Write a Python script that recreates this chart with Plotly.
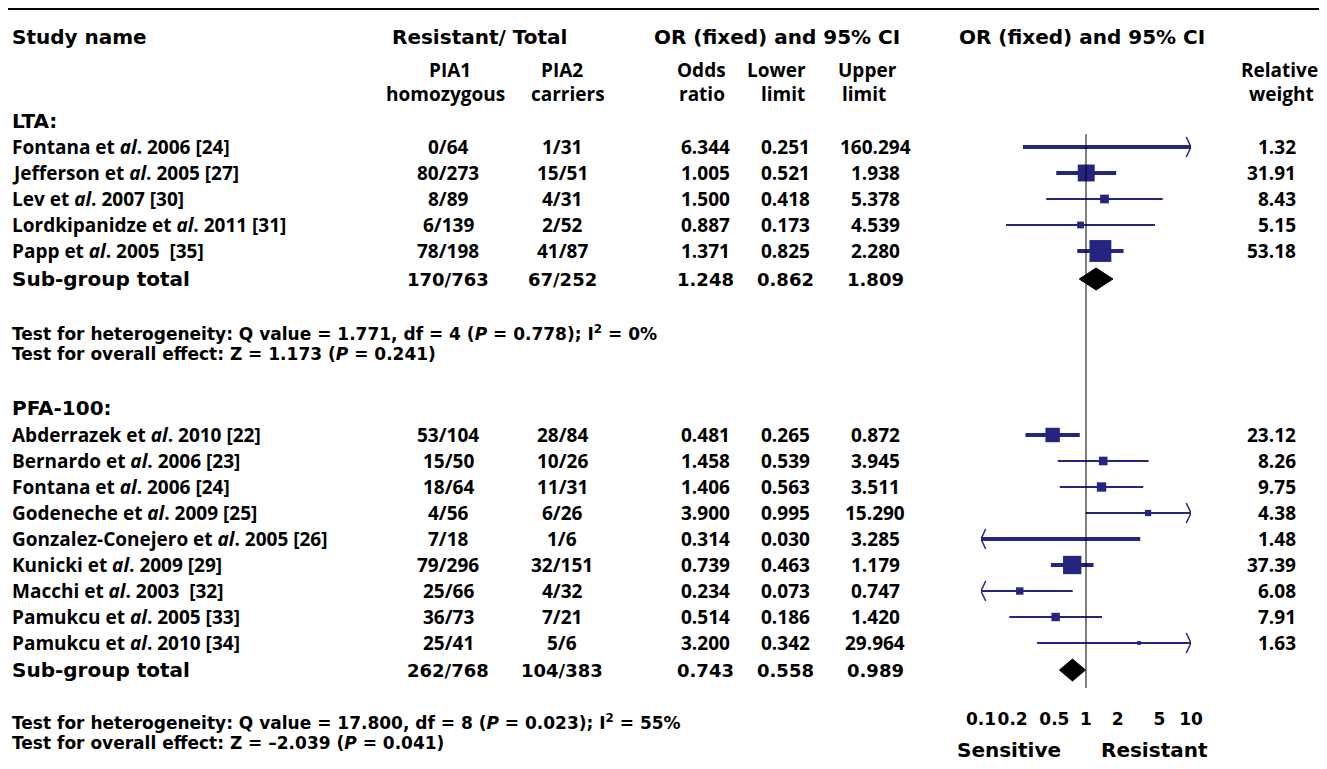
import math
import plotly.graph_objects as go

# ---------------- data ----------------
lta_names = ["Fontana et <i>al</i>. 2006 [24]", "Jefferson et <i>al</i>. 2005 [27]",
             "Lev et <i>al</i>. 2007 [30]", "Lordkipanidze et <i>al</i>. 2011 [31]",
             "Papp et <i>al</i>. 2005  [35]"]
lta_pia1 = ["0/64", "80/273", "8/89", "6/139", "78/198"]
lta_pia2 = ["1/31", "15/51", "4/31", "2/52", "41/87"]
lta_or = [6.344, 1.005, 1.500, 0.887, 1.371]
lta_lo = [0.251, 0.521, 0.418, 0.173, 0.825]
lta_hi = [160.294, 1.938, 5.378, 4.539, 2.280]
lta_w = [1.32, 31.91, 8.43, 5.15, 53.18]
lta_total = {"pia1": "170/763", "pia2": "67/252", "or": 1.248, "lo": 0.862, "hi": 1.809}
lta_het = "Test for heterogeneity: Q value = 1.771, df = 4 (<i>P</i> = 0.778); I<sup>2</sup> = 0%"
lta_eff = "Test for overall effect: Z = 1.173 (<i>P</i> = 0.241)"

pfa_names = ["Abderrazek et <i>al</i>. 2010 [22]", "Bernardo et <i>al</i>. 2006 [23]",
             "Fontana et <i>al</i>. 2006 [24]", "Godeneche et <i>al</i>. 2009 [25]",
             "Gonzalez-Conejero et <i>al</i>. 2005 [26]", "Kunicki et <i>al</i>. 2009 [29]",
             "Macchi et <i>al</i>. 2003  [32]", "Pamukcu et <i>al</i>. 2005 [33]",
             "Pamukcu et <i>al</i>. 2010 [34]"]
pfa_pia1 = ["53/104", "15/50", "18/64", "4/56", "7/18", "79/296", "25/66", "36/73", "25/41"]
pfa_pia2 = ["28/84", "10/26", "11/31", "6/26", "1/6", "32/151", "4/32", "7/21", "5/6"]
pfa_or = [0.481, 1.458, 1.406, 3.900, 0.314, 0.739, 0.234, 0.514, 3.200]
pfa_lo = [0.265, 0.539, 0.563, 0.995, 0.030, 0.463, 0.073, 0.186, 0.342]
pfa_hi = [0.872, 3.945, 3.511, 15.290, 3.285, 1.179, 0.747, 1.420, 29.964]
pfa_w = [23.12, 8.26, 9.75, 4.38, 1.48, 37.39, 6.08, 7.91, 1.63]
pfa_total = {"pia1": "262/768", "pia2": "104/383", "or": 0.743, "lo": 0.558, "hi": 0.989}
pfa_het = "Test for heterogeneity: Q value = 17.800, df = 8 (<i>P</i> = 0.023); I<sup>2</sup> = 55%"
pfa_eff = "Test for overall effect: Z = \u20132.039 (<i>P</i> = 0.041)"

tick_vals = [0.1, 0.2, 0.5, 1, 2, 5, 10]
tick_text = ["0.1", "0.2", "0.5", "1", "2", "5", "10"]
axis_min, axis_max = 0.1, 10

# ---------------- layout / style ----------------
PAGE_W, PAGE_H = 1327, 769
OFF = 8                      # default page body margin
W, H = PAGE_W - OFF, PAGE_H - OFF
NAVY = "#25257f"
FONT = "Open Sans"
HFONT = "DejaVu Sans"
REG = 19
HEAVY = 20
HEAVY_NUM = 18
TEST = 17
lta_rows = [147, 173, 199, 225, 251]
lta_total_row = 279
pfa_rows = [435, 461, 487, 513, 539, 565, 591, 617, 643]
pfa_total_row = 670
lta_thick = [True, True, False, False, True]
pfa_thick = [True, False, False, False, True, True, False, False, False]

col_pia1, col_pia2 = 448, 562
col_or, col_lo, col_hi = 705, 785, 875
col_w = 1298
x_name = 10


def px(x):
    return (x - OFF) / W


fig = go.Figure()
ann = []


def text(x, y, s, size=REG, heavy=False, anchor="center"):
    fam = HFONT if heavy else FONT
    ann.append(dict(x=px(x), y=y, xref="paper", yref="y", text="<b>" + s + "</b>",
                    showarrow=False, xanchor=anchor, yanchor="middle",
                    font=dict(family=fam, size=size, color="black")))


def fmt(v):
    return f"{v:.3f}"


def draw_group(names, p1, p2, ors, los, his, ws, rows, thick, total, total_row):
    for i in range(len(names)):
        y = rows[i]
        text(x_name, y, names[i], anchor="left")
        text(col_pia1, y, p1[i])
        text(col_pia2, y, p2[i])
        text(col_or, y, fmt(ors[i]))
        text(col_lo, y, fmt(los[i]))
        text(col_hi, y, fmt(his[i]))
        text(col_w, y, f"{ws[i]:.2f}", anchor="right")
        lo_c = max(los[i], axis_min)
        hi_c = min(his[i], axis_max)
        lw = 4 if thick[i] else 2
        fig.add_trace(go.Scatter(x=[lo_c, hi_c], y=[y, y], mode="lines",
                                 line=dict(color=NAVY, width=lw), hoverinfo="skip",
                                 showlegend=False))
        head = 10 ** 0.045
        if his[i] > axis_max:
            fig.add_trace(go.Scatter(x=[axis_max / head, axis_max, axis_max / head],
                                     y=[y - 10, y, y + 10], mode="lines",
                                     line=dict(color=NAVY, width=1.5), hoverinfo="skip",
                                     showlegend=False))
        if los[i] < axis_min:
            fig.add_trace(go.Scatter(x=[axis_min * head, axis_min, axis_min * head],
                                     y=[y - 10, y, y + 10], mode="lines",
                                     line=dict(color=NAVY, width=1.5), hoverinfo="skip",
                                     showlegend=False))
    fig.add_trace(go.Scatter(x=ors, y=rows, mode="markers",
                             marker=dict(symbol="square", color=NAVY, opacity=1,
                                         size=[3 * math.sqrt(w) for w in ws], line=dict(width=0)),
                             hoverinfo="skip", showlegend=False))
    # totals
    y = total_row
    text(x_name, y, "Sub-group total", size=HEAVY, heavy=True, anchor="left")
    text(col_pia1, y, total["pia1"], size=HEAVY_NUM, heavy=True)
    text(col_pia2, y, total["pia2"], size=HEAVY_NUM, heavy=True)
    text(col_or, y, fmt(total["or"]), size=HEAVY_NUM, heavy=True)
    text(col_lo, y, fmt(total["lo"]), size=HEAVY_NUM, heavy=True)
    text(col_hi, y, fmt(total["hi"]), size=HEAVY_NUM, heavy=True)
    fig.add_trace(go.Scatter(x=[total["lo"], total["or"], total["hi"], total["or"], total["lo"]],
                             y=[y, y - 11, y, y + 11, y], mode="lines", fill="toself",
                             fillcolor="black", line=dict(color="black", width=1),
                             hoverinfo="skip", showlegend=False))


draw_group(lta_names, lta_pia1, lta_pia2, lta_or, lta_lo, lta_hi, lta_w, lta_rows,
           lta_thick, lta_total, lta_total_row)
draw_group(pfa_names, pfa_pia1, pfa_pia2, pfa_or, pfa_lo, pfa_hi, pfa_w, pfa_rows,
           pfa_thick, pfa_total, pfa_total_row)

# headers
text(x_name, 37, "Study name", size=HEAVY, heavy=True, anchor="left")
text(479, 37, "Resistant/ Total", size=HEAVY, heavy=True)
text(777, 37, "OR (fixed) and 95% CI", size=HEAVY, heavy=True)
text(1082, 37, "OR (fixed) and 95% CI", size=HEAVY, heavy=True)
text(450, 70, "PIA1")
text(445, 94, "homozygous")
text(562, 70, "PIA2")
text(568, 94, "carriers")
text(701, 70, "Odds")
text(702, 94, "ratio")
text(776, 70, "Lower")
text(783, 94, "limit")
text(868, 70, "Upper")
text(864, 94, "limit")
text(1320, 70, "Relative", anchor="right")
text(1316, 94, "weight", anchor="right")
text(x_name, 121, "LTA:", size=HEAVY, heavy=True, anchor="left")
text(x_name, 408, "PFA-100:", size=HEAVY, heavy=True, anchor="left")
text(x_name, 333, lta_het, size=TEST, heavy=True, anchor="left")
text(x_name, 354, lta_eff, size=TEST, heavy=True, anchor="left")
text(x_name, 722, pfa_het, size=TEST, heavy=True, anchor="left")
text(x_name, 743, pfa_eff, size=TEST, heavy=True, anchor="left")
text(1009, 750, "Sensitive", size=HEAVY, heavy=True)
text(1154, 750, "Resistant", size=HEAVY, heavy=True)

shapes = [
    dict(type="line", xref="paper", yref="y", x0=px(8), x1=1, y0=9, y1=9,
         line=dict(color="black", width=2)),
    dict(type="line", xref="x", yref="y", x0=1, x1=1, y0=134, y1=688,
         line=dict(color="black", width=1)),
]

fig.update_layout(
    width=W, height=H, margin=dict(l=0, r=0, t=0, b=0, autoexpand=False),
    paper_bgcolor="white", plot_bgcolor="white",
    annotations=ann, shapes=shapes, showlegend=False,
    xaxis=dict(type="log", range=[math.log10(axis_min), math.log10(axis_max)],
               domain=[px(981), px(1191)], anchor="free", position=(PAGE_H - 707) / H,
               automargin=False, tickangle=0,
               showgrid=False, zeroline=False, showline=False, ticks="",
               tickvals=tick_vals, ticktext=["<b>" + t + "</b>" for t in tick_text],
               tickfont=dict(family=HFONT, size=17, color="black")),
    yaxis=dict(range=[PAGE_H, OFF], domain=[0, 1], visible=False, showgrid=False,
               zeroline=False, automargin=False),
)

fig.write_html("out.html")
